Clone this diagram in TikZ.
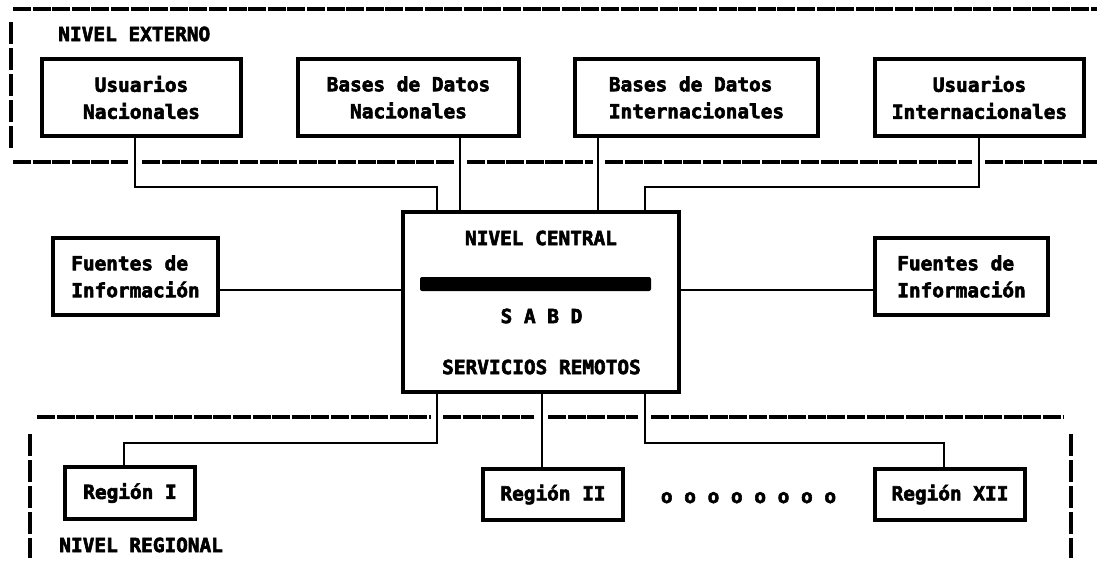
\documentclass[tikz,border=0pt]{standalone}
\usepackage{fontspec}
\setmainfont{DejaVu Sans Mono}[BoldFeatures={FakeBold=3}]
\newdimen\px \px=0.5pt
\newcommand\fs{\fontsize{9.7}{13.5}\selectfont\bfseries}
\tikzset{
  box/.style={draw, line width=1.6pt, inner sep=0pt, align=center, font=\fs},
  conn/.style={line width=1.15pt},
  sep/.style={line width=1.8pt, dash pattern=on 9pt off 0.8pt},
  side/.style={line width=1.6pt, dash pattern=on 11pt off 2pt},
  lbl/.style={inner sep=0pt, font=\fs},
}
\begin{document}
\begin{tikzpicture}[x=0.5pt, y=-0.5pt]
\useasboundingbox (0,0) rectangle (1097,564);
\fill[white] (0,0) rectangle (1097,564);

% separators
\draw[sep] (13,9) -- (1097,9);
\draw[sep] (13,162) -- (128,162);
\draw[sep] (142,162) -- (454,162);
\draw[sep] (467,162) -- (593,162);
\draw[sep] (605,162) -- (972,162);
\draw[sep] (985,162) -- (1097,162);
\draw[sep] (37,417) -- (431,417);
\draw[sep] (443,417) -- (534,417);
\draw[sep] (548,417) -- (638,417);
\draw[sep] (651,417) -- (1064,417);
\draw[side] (11,22) -- (11,148);
\draw[side] (30,434) -- (30,558);
\draw[side] (1071,434) -- (1071,558);

% labels
\node[lbl, anchor=base west] (ne) at (58,41) {NIVEL EXTERNO};
\node[lbl, anchor=base west] (nr) at (59,552) {NIVEL REGIONAL};

% external boxes
\node[box, minimum width=199\px, minimum height=77\px] (un) at (141.5,97.5) {Usuarios\\Nacionales};
\node[box, minimum width=221\px, minimum height=77\px] (bn) at (408.5,97.5) {Bases de Datos\\Nacionales};
\node[box, align=left, minimum width=243\px, minimum height=77\px] (bi) at (696.5,97.5) {Bases de Datos\\Internacionales};
\node[box, minimum width=209\px, minimum height=77\px] (ui) at (979.5,97.5) {Usuarios\\Internacionales};

% central box
\node[box, minimum width=276\px, minimum height=180\px] (c) at (541,302) {};
\node[lbl] (nc) at (541,238) {NIVEL CENTRAL};
\node[fill, rounded corners=1pt, minimum width=231\px, minimum height=14\px, inner sep=0pt] (bar) at (535.5,284) {};
\node[lbl] (sabd) at (541.5,316) {S A B D};
\node[lbl] (sr) at (541.5,367) {SERVICIOS REMOTOS};

% sources
\node[box, align=left, minimum width=165\px, minimum height=77\px] (fl) at (135.5,276.5) {Fuentes de\\Información};
\node[box, align=left, minimum width=173\px, minimum height=77\px] (fr) at (961.5,276.5) {Fuentes de\\Información};

% regions
\node[box, minimum width=130\px, minimum height=52\px] (r1) at (130,493) {Región I};
\node[box, minimum width=140\px, minimum height=51\px] (r2) at (553,494.5) {Región II};
\node[box, minimum width=150\px, minimum height=51\px] (r12) at (950,494.5) {Región XII};
\node[lbl, anchor=base] (dots) at (748.5,503) {o o o o o o o o};

% junction coordinates
\coordinate (j0) at (135,187);
\coordinate (j1) at (437,187);
\coordinate (j2) at (460,187);
\coordinate (j3) at (598,187);
\coordinate (j4) at (979,187);
\coordinate (j5) at (645,187);
\coordinate (j6) at (437,443);
\coordinate (j7) at (124,443);
\coordinate (j8) at (542,443);
\coordinate (j9) at (645,443);
\coordinate (j10) at (944,443);
\coordinate (j11) at (300,290);

% connectors
\draw[conn] (un.south -| j0) |- (j1) -- (c.north -| j1);
\draw[conn] (bn.south -| j2) -- (c.north -| j2);
\draw[conn] (bi.south -| j3) -- (c.north -| j3);
\draw[conn] (ui.south -| j4) |- (j5) -- (c.north -| j5);
\draw[conn] (fl.east |- j11) -- (c.west |- j11);
\draw[conn] (c.east |- j11) -- (fr.west |- j11);
\draw[conn] (c.south -| j6) |- (j7) -- (r1.north -| j7);
\draw[conn] (c.south -| j8) -- (r2.north -| j8);
\draw[conn] (c.south -| j9) |- (j10) -- (r12.north -| j10);
\end{tikzpicture}
\end{document}
